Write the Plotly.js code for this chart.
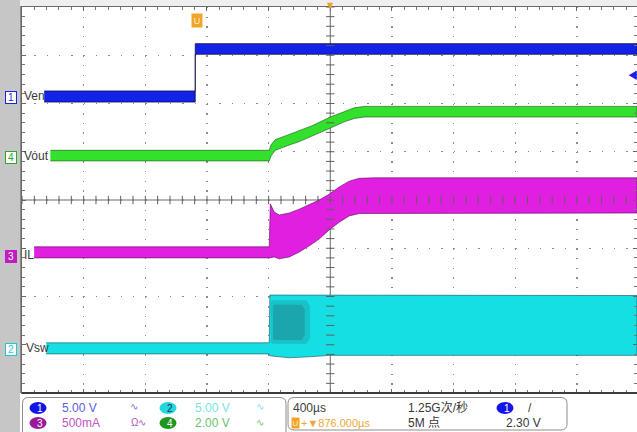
<!DOCTYPE html>
<html><head><meta charset="utf-8">
<script src="https://cdn.plot.ly/plotly-3.0.1.min.js"></script>
<style>html,body{margin:0;padding:0;background:#fff;overflow:hidden}#chart{width:637px;height:432px}</style>
</head><body><div id="chart"></div>
<script>
// Time in µs relative to the trigger (EN rising edge), 400 µs/div.
// Amplitudes in screen divisions (0 = centre line), envelopes of the traces.
const venT   = [-980, 0, 0, 2866];
const venTop = [2.26, 2.26, 3.24, 3.24];
const venBot = [2.03, 2.03, 3.02, 3.02];

const voutT   = [-940, 480, 493, 519, 610, 675, 759, 869, 967, 1032, 1096, 2866];
const voutTop = [1.03, 1.03, 1.15, 1.25, 1.36, 1.44, 1.54, 1.71, 1.84, 1.91, 1.94, 1.94];
const voutBot = [0.81, 0.81, 0.92, 1.03, 1.14, 1.21, 1.32, 1.48, 1.62, 1.69, 1.72, 1.72];

const ilT   = [-1045, 480, 487, 512, 545, 610, 675, 740, 804, 869, 934, 999, 1064, 1161, 2866];
const ilTop = [-0.97, -0.97, -0.08, -0.25, -0.31, -0.27, -0.19, -0.10, 0.00, 0.12, 0.27, 0.39, 0.45, 0.46, 0.46];
const ilBot = [-1.20, -1.20, -1.20, -1.18, -1.22, -1.18, -1.08, -0.95, -0.81, -0.62, -0.46, -0.33, -0.28, -0.27, -0.27];

const vswT   = [-967, 480, 484, 610, 740, 869, 2866];
const vswTop = [-2.96, -2.96, -1.97, -1.97, -1.98, -1.98, -1.98];
const vswBot = [-3.19, -3.19, -3.23, -3.27, -3.25, -3.22, -3.22];
// denser (darker) switching region just after start-up: outer halo and core
const vswHaloT   = [490, 500, 720, 745];
const vswHaloTop = [-2.10, -2.08, -2.08, -2.20];
const vswHaloBot = [-2.96, -2.98, -2.98, -2.86];
const vswCoreT   = [505, 515, 690, 710];
const vswCoreTop = [-2.20, -2.17, -2.17, -2.26];
const vswCoreBot = [-2.88, -2.90, -2.90, -2.80];

const chNames  = ['Ven', 'Vout', 'IL', 'Vsw'];
const chNums   = ['1', '4', '3', '2'];
const scaleRow1 = ['5.00 V', '5.00 V'];
const scaleRow2 = ['500mA', '2.00 V'];
const timebase = '400µs';
const trigOffset = '+▼876.000µs';
const sampleRate = '1.25G次/秒';
const recLen = '5M 点';
const trigLevel = '2.30 V';

const X0 = -1124, X1 = 2866, CENTER = 876;

const px2x = p => (p - 22) / 615;
const py2y = p => (393 - p) / 386;

function band(t, top, bot, fill, edge) {
  return {
    type: 'scatter', mode: 'lines', hoverinfo: 'skip', showlegend: false,
    x: t.concat(t.slice().reverse()),
    y: top.concat(bot.slice().reverse()),
    fill: 'toself', fillcolor: fill,
    line: {color: edge, width: 1}
  };
}

const traces = [
  band(venT, venTop, venBot, '#1222e6', 'rgba(10,10,70,0.75)'),
  band(voutT, voutTop, voutBot, '#33e02c', 'rgba(20,80,20,0.6)'),
  band(ilT, ilTop, ilBot, '#e01fe0', 'rgba(90,10,90,0.6)'),
  band(vswT, vswTop, vswBot, '#16dfe3', 'rgba(20,80,90,0.6)'),
  band(vswHaloT, vswHaloTop, vswHaloBot, 'rgba(30,140,150,0.35)', 'rgba(30,140,150,0)'),
  band(vswCoreT, vswCoreTop, vswCoreBot, 'rgba(30,130,140,0.45)', 'rgba(30,140,150,0)')
];

// centre-line tick marks
const hx = [], hy = [], vx = [], vy = [];
for (let k = -25; k <= 25; k++) { hx.push(CENTER + k * 80); hy.push(0); }
for (let k = -20; k <= 20; k++) { vx.push(CENTER); vy.push(k * 0.2); }
traces.push({type: 'scatter', mode: 'markers', x: hx, y: hy, hoverinfo: 'skip', showlegend: false,
  marker: {symbol: 'line-ns', size: 6, line: {color: '#606060', width: 1}}});
traces.push({type: 'scatter', mode: 'markers', x: vx, y: vy, hoverinfo: 'skip', showlegend: false,
  marker: {symbol: 'line-ew', size: 6, line: {color: '#606060', width: 1}}});

function rrect(x0, y0, x1, y1, r) {
  const X = p => px2x(p), Y = p => py2y(p);
  return `M ${X(x0 + r)} ${Y(y0)} L ${X(x1 - r)} ${Y(y0)} Q ${X(x1)} ${Y(y0)} ${X(x1)} ${Y(y0 + r)} ` +
         `L ${X(x1)} ${Y(y1 - r)} Q ${X(x1)} ${Y(y1)} ${X(x1 - r)} ${Y(y1)} L ${X(x0 + r)} ${Y(y1)} ` +
         `Q ${X(x0)} ${Y(y1)} ${X(x0)} ${Y(y1 - r)} L ${X(x0)} ${Y(y0 + r)} Q ${X(x0)} ${Y(y0)} ${X(x0 + r)} ${Y(y0)} Z`;
}

const shapes = [
  {type: 'rect', xref: 'paper', yref: 'paper', x0: px2x(0), x1: px2x(637), y0: py2y(6), y1: py2y(0), fillcolor: '#efefef', line: {width: 0}, layer: 'below'},
  {type: 'rect', xref: 'paper', yref: 'paper', x0: px2x(0), x1: px2x(20), y0: py2y(432), y1: py2y(0), fillcolor: '#c6c6c6', line: {width: 0}},
  {type: 'line', xref: 'paper', yref: 'paper', x0: px2x(20.5), x1: px2x(20.5), y0: py2y(393), y1: py2y(6), line: {color: '#8a8a8a', width: 1}},
  {type: 'line', xref: 'x', yref: 'paper', x0: CENTER, x1: CENTER, y0: 0, y1: 1, line: {color: '#6a6a6a', width: 1}, layer: 'below'},
  {type: 'line', xref: 'paper', yref: 'y', x0: 0, x1: 1, y0: 0, y1: 0, line: {color: '#6a6a6a', width: 1}, layer: 'below'},
  {type: 'line', xref: 'paper', yref: 'paper', x0: 0, x1: px2x(637), y0: py2y(393), y1: py2y(393), line: {color: '#3c3c3c', width: 2}},
  {type: 'path', xref: 'paper', yref: 'paper', path: rrect(22.5, 397.5, 286, 440, 6), line: {color: '#8c8c8c', width: 1}, fillcolor: '#ffffff'},
  {type: 'path', xref: 'paper', yref: 'paper', path: rrect(288, 397.5, 567, 430, 6), line: {color: '#8c8c8c', width: 1}, fillcolor: '#ffffff'},
];

function chip(cx, cy, fill) {
  shapes.push({type: 'circle', xref: 'paper', yref: 'paper', x0: px2x(cx - 8.5), x1: px2x(cx + 8.5),
    y0: py2y(cy + 6), y1: py2y(cy - 6), fillcolor: fill, line: {width: 0}});
}
chip(38, 408, '#1414ea');
chip(168, 408, '#22d8dc');
chip(38, 423, '#9c1a98');
chip(168, 423, '#1c961c');
chip(505, 408, '#1414ea');

const F = 'Liberation Sans Narrow, Liberation Sans, Arial, Noto Sans CJK SC, sans-serif';
const ann = [];
function txt(s, x, y, color, size, extra) {
  ann.push(Object.assign({text: s, xref: 'paper', yref: 'paper', x: px2x(x), y: py2y(y),
    xanchor: 'left', yanchor: 'middle', showarrow: false, font: {family: F, size: size, color: color}}, extra || {}));
}
const tagY = [97, 157, 256, 349];
const tagCol = ['#1a22e0', '#2aa82a', '#c01cc0', '#20c8d0'];
const tagFilled = [false, false, true, false];
const nameX = [22, 22, 22, 24];
for (let i = 0; i < 4; i++) {
  txt(chNums[i], 5, tagY[i], tagFilled[i] ? '#ffffff' : tagCol[i], 10,
    {bgcolor: tagFilled[i] ? tagCol[i] : '#ffffff', bordercolor: tagCol[i], borderwidth: 1, borderpad: 0, width: 10, height: 11, align: 'center'});
  txt(chNames[i], nameX[i], tagY[i] - 1, '#3a3a3a', 12);
}
txt('U', 191, 20, '#fff2d0', 9, {bgcolor: '#f2a428', borderpad: 1, width: 8, height: 11, align: 'center'});
ann.push({text: '▼', xref: 'paper', yref: 'paper', x: px2x(330), y: py2y(6), xanchor: 'center', yanchor: 'middle', showarrow: false, font: {family: 'DejaVu Sans', size: 8, color: '#f0a020'}});
txt('◀', 626, 76, '#1a22e0', 10);
txt('1', 35, 408.5, '#ffffff', 10);
txt(scaleRow1[0], 60, 408, '#5c5ce0', 12);
txt('∿', 128, 407, '#6a6ae0', 10);
txt('2', 165, 408.5, '#103050', 10);
txt(scaleRow1[1], 193, 408, '#78e2e4', 12);
txt('∿', 254, 407, '#78e2e4', 10);
txt('3', 35, 423.5, '#ffffff', 10);
txt(scaleRow2[0], 60, 423, '#c454c4', 12);
txt('Ω∿', 129, 422, '#b850b8', 10);
txt('4', 165, 423.5, '#ffffff', 10);
txt(scaleRow2[1], 193, 423, '#6cc06c', 12);
txt('∿', 254, 422, '#6cc06c', 10);
txt(timebase, 291, 408, '#404040', 12);
txt('U', 291, 423, '#fff2d0', 8, {bgcolor: '#f2a428', borderpad: 0, width: 7, height: 10, align: 'center'});
txt(trigOffset, 299, 423, '#f0a83a', 11);
txt(sampleRate, 406, 408, '#383838', 12);
txt(recLen, 406, 423, '#383838', 12);
txt('1', 502, 408.5, '#ffffff', 10);
txt('/', 526, 408, '#404040', 12);
txt(trigLevel, 504, 423, '#383838', 12);

const layout = {
  width: 637, height: 432,
  margin: {l: 22, r: 0, t: 7, b: 39, pad: 0},
  paper_bgcolor: '#ffffff', plot_bgcolor: '#ffffff',
  showlegend: false,
  xaxis: {range: [X0, X1], tick0: CENTER, dtick: 400, showticklabels: false,
    showgrid: true, gridcolor: '#8c8c8c', gridwidth: 1.4, griddash: '1.4px,8.25px',
    zeroline: false, showline: true, linecolor: '#6a6a6a', linewidth: 1, mirror: 'allticks',
    ticks: 'inside', ticklen: 4, tickcolor: '#666',
    minor: {dtick: 80, tick0: CENTER, ticks: 'inside', ticklen: 3, tickcolor: '#777', showgrid: false},
    fixedrange: true},
  yaxis: {range: [-4, 4], tick0: 0, dtick: 1, showticklabels: false,
    showgrid: true, gridcolor: '#8c8c8c', gridwidth: 1.4, griddash: '1.4px,10.93px',
    zeroline: false, showline: true, linecolor: '#6a6a6a', linewidth: 1, mirror: 'allticks',
    ticks: 'inside', ticklen: 4, tickcolor: '#666',
    minor: {dtick: 0.2, tick0: 0, ticks: 'inside', ticklen: 3, tickcolor: '#777', showgrid: false},
    fixedrange: true},
  shapes: shapes,
  annotations: ann
};

Plotly.newPlot('chart', traces, layout, {displayModeBar: false, staticPlot: true});
</script>
</body></html>
